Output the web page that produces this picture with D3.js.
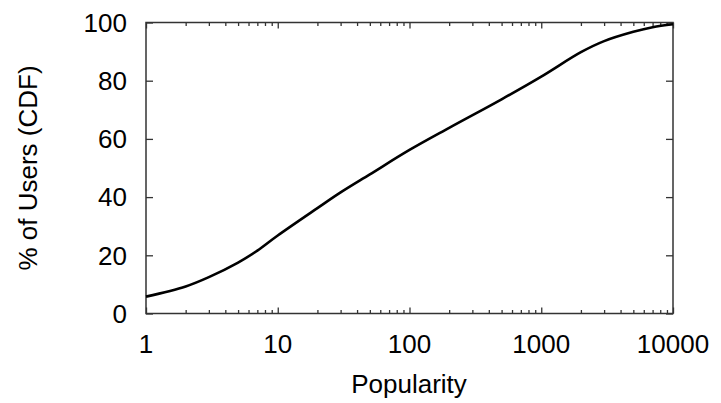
<!DOCTYPE html>
<html>
<head>
<meta charset="utf-8">
<script src="https://cdn.jsdelivr.net/npm/d3@7"></script>
<style>
  body { margin: 0; background: #fff; }
  text { font-family: "Liberation Sans", Arial, sans-serif; fill: #000; }
</style>
</head>
<body>
<svg width="721" height="403"></svg>
<script>
// popularity (x, log scale) vs cumulative % of users
var popularity = [1, 2, 3, 5, 7, 10, 20, 30, 50, 100, 200, 500, 1000, 2000, 3000, 5000, 7000, 10000];
var userPct    = [5.8, 9.3, 12.5, 17.5, 21.6, 26.8, 36.2, 41.6, 47.8, 56.2, 63.8, 73.6, 81.4, 89.8, 93.6, 96.8, 98.4, 99.4];
var xTicks = [1, 10, 100, 1000, 10000];
var yTicks = [0, 20, 40, 60, 80, 100];

var svg = d3.select("svg");
var plotL = 146, plotR = 673, plotT = 22.5, plotB = 313.5;

var x = d3.scaleLog().domain([1, 10000]).range([plotL, plotR]);
var y = d3.scaleLinear().domain([0, 100]).range([plotB, plotT]);

var minor = [];
for (var d = 1; d < 10000; d *= 10) {
  for (var k = 2; k <= 9; k++) minor.push(d * k);
}

var frameColor = "#333";

// ticks, drawn inward on all four sides
function ticks(axis, tr) {
  var g = svg.append("g").attr("transform", tr).call(axis);
  g.select(".domain").remove();
  g.selectAll(".tick line").attr("stroke", frameColor).attr("stroke-width", 1.3);
  g.selectAll("text").remove();
  return g;
}
ticks(d3.axisBottom(x).tickValues(xTicks).tickSize(-6), "translate(0," + plotB + ")");
ticks(d3.axisBottom(x).tickValues(minor).tickSize(-3.5), "translate(0," + plotB + ")");
ticks(d3.axisTop(x).tickValues(xTicks).tickSize(-6), "translate(0," + plotT + ")");
ticks(d3.axisTop(x).tickValues(minor).tickSize(-3.5), "translate(0," + plotT + ")");
ticks(d3.axisLeft(y).tickValues(yTicks).tickSize(-7), "translate(" + plotL + ",0)");
ticks(d3.axisRight(y).tickValues(yTicks).tickSize(-7), "translate(" + plotR + ",0)");

// frame
svg.append("rect")
  .attr("x", plotL).attr("y", plotT)
  .attr("width", plotR - plotL).attr("height", plotB - plotT)
  .attr("fill", "none").attr("stroke", frameColor).attr("stroke-width", 1.5);

// tick labels
svg.selectAll(".xl").data(xTicks).enter().append("text")
  .attr("x", function(d) { return x(d); })
  .attr("y", 353)
  .attr("text-anchor", "middle")
  .style("font-size", "26px")
  .text(function(d) { return d; });

svg.selectAll(".yl").data(yTicks).enter().append("text")
  .attr("x", 127)
  .attr("y", function(d) { return y(d); })
  .attr("dy", "0.36em")
  .attr("text-anchor", "end")
  .style("font-size", "26px")
  .text(function(d) { return d; });

// axis titles
svg.append("text")
  .attr("x", 409).attr("y", 393)
  .attr("text-anchor", "middle")
  .style("font-size", "26px")
  .text("Popularity");

svg.append("text")
  .attr("transform", "translate(37," + 168 + ") rotate(-90)")
  .attr("text-anchor", "middle")
  .style("font-size", "26px")
  .text("% of Users (CDF)");

// curve
var line = d3.line()
  .x(function(d) { return x(d[0]); })
  .y(function(d) { return y(d[1]); })
  .curve(d3.curveCatmullRom.alpha(0.5));

svg.append("path")
  .datum(d3.zip(popularity, userPct))
  .attr("d", line)
  .attr("fill", "none")
  .attr("stroke", "#000")
  .attr("stroke-width", 2.6);
</script>
</body>
</html>
